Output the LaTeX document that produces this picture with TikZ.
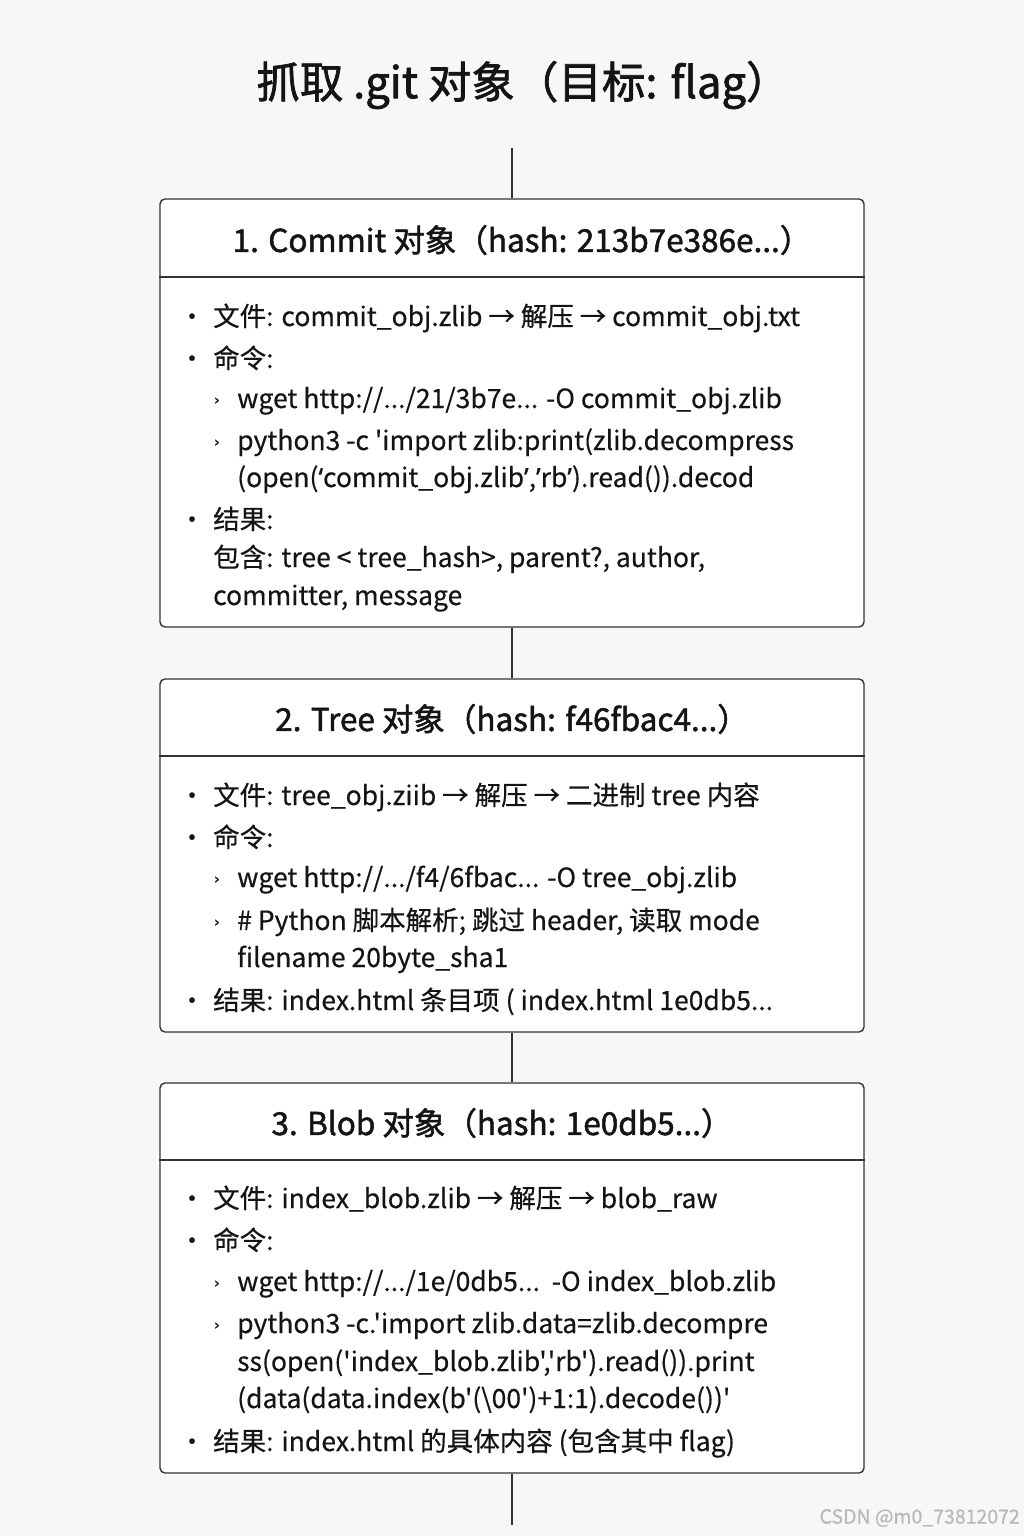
\documentclass[tikz,border=0pt]{standalone}
\usepackage{fontspec}
\setmainfont{Noto Sans CJK SC}[Ligatures=TeXOff,FakeBold=0.4]
\newfontfamily\hdfont{Noto Sans CJK SC}[Ligatures=TeXOff,FakeBold=1.6]
\newfontfamily\qfont{Noto Sans}[FakeBold=0.4]
\newfontfamily\symfont{DejaVu Sans}
\newcommand{\myLq}{{\qfont ‘}}
\newcommand{\myRq}{{\qfont ’}}
\begin{document}
\begin{tikzpicture}[x=1pt,y=-1pt,
  frame/.style={draw=black!80,line width=1.4pt,rounded corners=5pt,fill=white,minimum width=704pt,inner sep=0pt},
  sep/.style={draw=black!80,line width=1.2pt},
  conn/.style={draw=black!80,line width=1.2pt},
  ttl/.style={font=\hdfont\fontsize{43.5}{50}\selectfont,text=black!92,anchor=center,inner sep=0pt},
  hdr/.style={font=\hdfont\fontsize{31.5}{36}\selectfont,text=black!92,anchor=center,inner sep=0pt},
  txt/.style={font=\fontsize{26.5}{32}\selectfont,text=black!92,anchor=base west,inner sep=0pt},
  bul/.style={font=\fontsize{26}{32}\selectfont,text=black!92,anchor=base,inner sep=0pt},
  sub/.style={font=\symfont\bfseries\fontsize{15}{16}\selectfont,text=black!92,anchor=base,inner sep=0pt},
  wm/.style={font=\fontsize{19.5}{22}\selectfont,text=black!28,anchor=east,inner sep=0pt}]
\fill[fill={rgb,255:red,247;green,247;blue,249}] (0,0) rectangle (1024,1536);
\useasboundingbox (0,0) rectangle (1024,1536);

\node[ttl] (title) at (523,85) {抓取 .git 对象（目标: flag）};

% boxes
\node[frame,minimum height=428pt] (b1) at (512,413) {};
\node[frame,minimum height=353pt] (b2) at (512,855.5) {};
\node[frame,minimum height=390pt] (b3) at (512,1278) {};
\draw[sep] (b1.west |- 0,277) -- (b1.east |- 0,277);
\draw[sep] (b2.west |- 0,756) -- (b2.east |- 0,756);
\draw[sep] (b3.west |- 0,1160) -- (b3.east |- 0,1160);

\coordinate (top) at (512,148);
\coordinate (bot) at (512,1525);
\draw[conn] (top) -- (b1.north);
\draw[conn] (b1.south) -- (b2.north);
\draw[conn] (b2.south) -- (b3.north);
\draw[conn] (b3.south) -- (bot);

% headers
\node[hdr] (h1) at (522,240) {1. Commit 对象（hash: 213b7e386e...）};
\node[hdr] (h2) at (512,719) {2. Tree 对象（hash: f46fbac4...）};
\node[hdr] (h3) at (502,1123) {3. Blob 对象（hash: 1e0db5...）};

% box 1
\node[bul] (b1a) at (192,326) {•};
\node[txt] (t1a) at (213,326) {文件: commit\_obj.zlib → 解压 → commit\_obj.txt};
\node[bul] (b1b) at (192,368) {•};
\node[txt] (t1b) at (213,368) {命令:};
\node[sub] (s1a) at (217,405) {›};
\node[txt] (t1c) at (237,408) {wget http://.../21/3b7e... -O commit\_obj.zlib};
\node[sub] (s1b) at (217,447) {›};
\node[txt] (t1d) at (237,450) {python3 -c 'import zlib:print(zlib.decompress};
\node[txt] (t1e) at (237,487) {(open(\myLq commit\_obj.zlib\myRq,\myRq rb\myRq).read()).decod};
\node[bul] (b1c) at (192,529) {•};
\node[txt] (t1f) at (213,529) {结果:};
\node[txt] (t1g) at (213,567) {包含: tree < tree\_hash>, parent?, author,};
\node[txt] (t1h) at (213,605) {committer, message};

% box 2
\node[bul] (b2a) at (192,805) {•};
\node[txt] (t2a) at (213,805) {文件: tree\_obj.ziib → 解压 → 二进制 tree 内容};
\node[bul] (b2b) at (192,847) {•};
\node[txt] (t2b) at (213,847) {命令:};
\node[sub] (s2a) at (217,884) {›};
\node[txt] (t2c) at (237,887) {wget http://.../f4/6fbac... -O tree\_obj.zlib};
\node[sub] (s2b) at (217,927) {›};
\node[txt] (t2d) at (237,930) {\# Python 脚本解析; 跳过 header, 读取 mode};
\node[txt] (t2e) at (237,967) {filename 20byte\_sha1};
\node[bul] (b2c) at (192,1010) {•};
\node[txt] (t2f) at (213,1010) {结果: index.html 条目项 ( index.html 1e0db5...};

% box 3
\node[bul] (b3a) at (192,1208) {•};
\node[txt] (t3a) at (213,1208) {文件: index\_blob.zlib → 解压 → blob\_raw};
\node[bul] (b3b) at (192,1250) {•};
\node[txt] (t3b) at (213,1250) {命令:};
\node[sub] (s3a) at (217,1288) {›};
\node[txt] (t3c) at (237,1291) {wget http://.../1e/0db5...\ \ -O index\_blob.zlib};
\node[sub] (s3b) at (217,1330) {›};
\node[txt] (t3d) at (237,1333) {python3 -c.'import zlib.data=zlib.decompre};
\node[txt] (t3e) at (237,1371) {ss(open('index\_blob.zlib','rb').read()).print};
\node[txt] (t3f) at (237,1408) {(data(data.index(b'(\textbackslash{}00')+1:1).decode())'};
\node[bul] (b3c) at (192,1451) {•};
\node[txt] (t3g) at (213,1451) {结果: index.html 的具体内容 (包含其中 flag)};

\node[wm] (wm) at (1020,1518) {CSDN @m0\_73812072};
\end{tikzpicture}
\end{document}
